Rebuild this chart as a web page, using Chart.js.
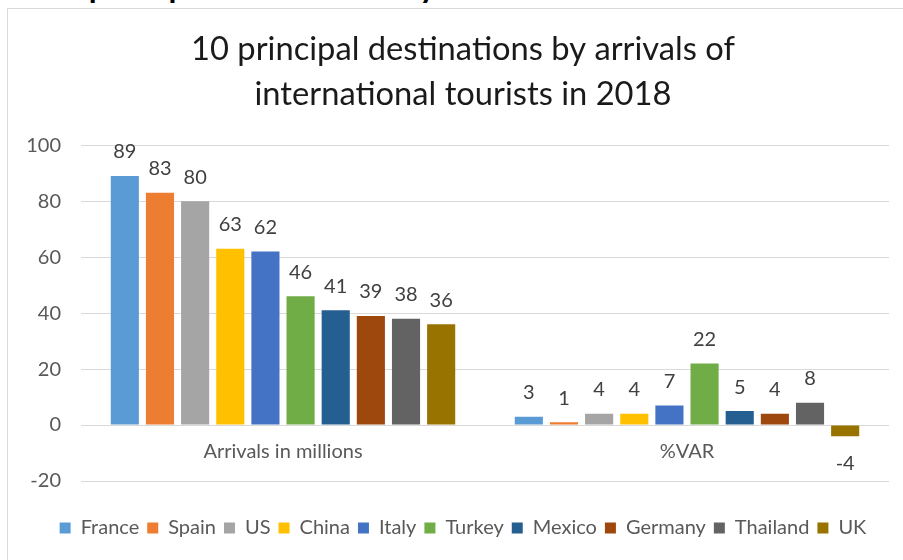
<!DOCTYPE html>
<html>
<head>
<meta charset="utf-8">
<script src="https://cdn.jsdelivr.net/npm/chart.js@4.4.1/dist/chart.umd.min.js"></script>
<style>
  html, body { margin: 0; padding: 0; background: #fff; overflow: hidden; width: 903px; height: 560px; }
  #cut { position: absolute; left: -18px; top: -32px; font: bold 32px Lato, sans-serif; line-height: 36px; color: #000; white-space: nowrap; }
  #frame { position: absolute; left: 7px; top: 8px; width: 930px; height: 600px; border: 1px solid #d9d9d9; background: #fff; }
  #c { position: absolute; left: 8px; top: 9px; }
</style>
</head>
<body>
<div id="cut">The 10 principal destinations by international tourist arrivals in 2018</div>
<div id="frame"></div>
<canvas id="c" width="912" height="560"></canvas>
<script>
const categories = ["Arrivals in millions", "%VAR"];
const countries = ["France", "Spain", "US", "China", "Italy", "Turkey", "Mexico", "Germany", "Thailand", "UK"];
const arrivals = [89, 83, 80, 63, 62, 46, 41, 39, 38, 36];
const variation = [3, 1, 4, 4, 7, 22, 5, 4, 8, -4];
const colors = ["#5B9BD5", "#ED7D31", "#A5A5A5", "#FFC000", "#4472C4", "#70AD47", "#255E91", "#9E480E", "#636363", "#997300"];
const yTicks = [-20, 0, 20, 40, 60, 80, 100];
const titleLines = ["10 principal destinations by arrivals of", "international tourists in 2018"];

const datasets = countries.map((name, i) => ({
  label: name,
  data: [arrivals[i], variation[i]],
  backgroundColor: colors[i],
  borderWidth: 0,
  categoryPercentage: 0.87,
  barPercentage: 0.8
}));

const valueLabels = {
  id: 'valueLabels',
  afterDatasetsDraw(chart) {
    const ctx = chart.ctx;
    ctx.save();
    ctx.font = '20px Lato, sans-serif';
    ctx.fillStyle = '#404040';
    ctx.textAlign = 'center';
    ctx.textBaseline = 'middle';
    chart.data.datasets.forEach((ds, di) => {
      const meta = chart.getDatasetMeta(di);
      meta.data.forEach((el, j) => {
        const v = ds.data[j];
        const y = v >= 0 ? el.y - 24 : el.y + 27;
        ctx.fillText(String(v), el.x, y);
      });
    });
    ctx.restore();
  }
};

// let the y tick labels use the space left of the padded area (avoid clipping)
const unclipY = {
  id: 'unclipY',
  afterLayout(chart) { chart.scales.y.left = 0; }
};

new Chart(document.getElementById('c'), {
  type: 'bar',
  data: { labels: categories, datasets },
  options: {
    responsive: false,
    animation: false,
    layout: { padding: { left: 29, right: 31, top: 0, bottom: 21 } },
    plugins: {
      title: {
        display: true,
        text: titleLines,
        color: '#1a1a1a',
        font: { family: 'Lato, sans-serif', size: 32.7, weight: 'normal', lineHeight: 1.38 },
        padding: { top: 18, bottom: 28 }
      },
      legend: {
        position: 'bottom',
        title: { display: true, text: ' ', padding: 0, font: { size: 29, lineHeight: 1 } },
        labels: {
          color: '#595959',
          font: { family: 'Lato, sans-serif', size: 20 },
          boxWidth: 11,
          boxHeight: 11,
          padding: 8
        }
      },
      tooltip: { enabled: false }
    },
    scales: {
      x: {
        position: { y: 0 },
        grid: { display: false },
        border: { display: false },
        ticks: { color: '#595959', font: { family: 'Lato, sans-serif', size: 20 }, padding: 7 }
      },
      y: {
        min: -20,
        max: 100,
        afterBuildTicks: s => { s.ticks = yTicks.map(v => ({ value: v })); },
        afterFit: s => { s.width = 44; },
        grid: { color: '#d9d9d9', drawTicks: false, lineWidth: 1 },
        border: { display: false },
        ticks: { color: '#595959', font: { family: 'Lato, sans-serif', size: 20 }, padding: 20 }
      }
    }
  },
  plugins: [valueLabels, unclipY]
});
</script>
</body>
</html>
